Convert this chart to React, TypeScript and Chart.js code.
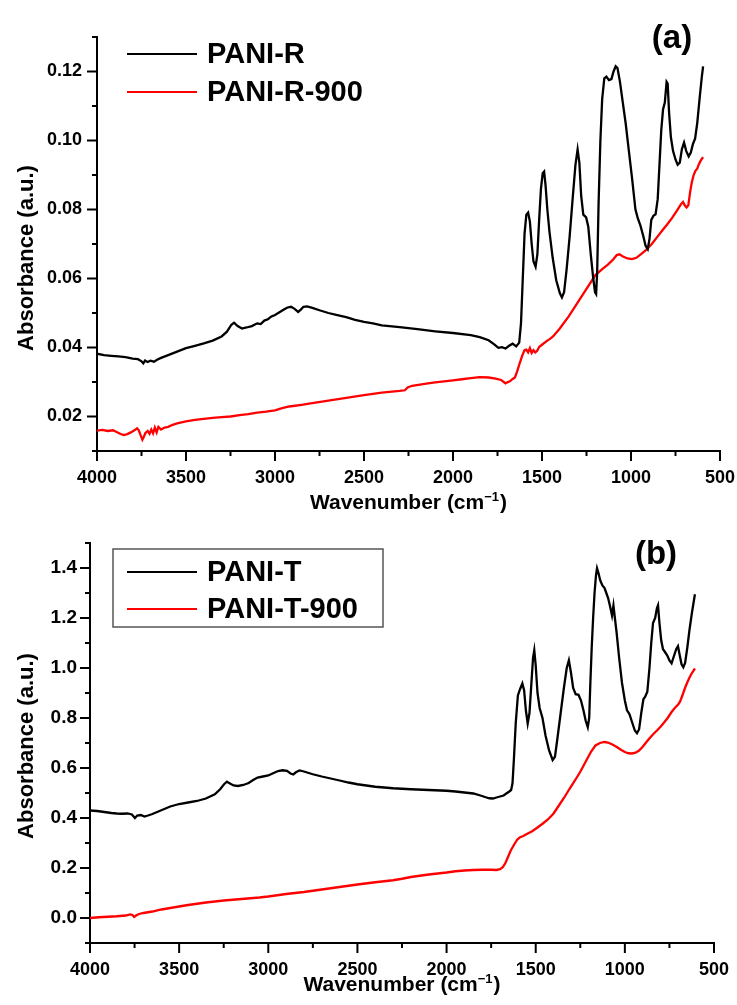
import React, { useEffect, useRef } from 'react';
import { Chart, registerables } from 'chart.js';

Chart.register(...registerables);

// ---------- data ----------
const xTicks = [4000, 3500, 3000, 2500, 2000, 1500, 1000, 500];
const yTicksA = [0.02, 0.04, 0.06, 0.08, 0.1, 0.12];
const yTicksB = [0.0, 0.2, 0.4, 0.6, 0.8, 1.0, 1.2, 1.4];

const seriesLabelsA = ['PANI-R', 'PANI-R-900'];
const seriesLabelsB = ['PANI-T', 'PANI-T-900'];
const panelLabels = ['(a)', '(b)'];

const paniR: [number, number][] = [
  [4000,0.0382],[3960,0.0378],[3920,0.0376],[3880,0.0374],[3840,0.0372],[3800,0.0368],[3770,0.0366],[3750,0.0360],[3740,0.0354],[3730,0.0362],[3715,0.0358],[3700,0.0362],[3680,0.0359],[3660,0.0365],[3640,0.0370],[3600,0.0378],[3550,0.0388],[3500,0.0398],[3450,0.0405],[3400,0.0412],[3350,0.0420],[3300,0.0432],[3270,0.0446],[3245,0.0466],[3230,0.0472],[3210,0.0462],[3185,0.0455],[3160,0.0458],[3130,0.0462],[3100,0.0470],[3080,0.0468],[3060,0.0478],[3040,0.0482],[3020,0.0490],[3000,0.0494],[2975,0.0502],[2950,0.0510],[2930,0.0516],[2910,0.0518],[2890,0.0512],[2870,0.0503],[2855,0.0510],[2840,0.0518],[2820,0.0519],[2790,0.0515],[2750,0.0508],[2700,0.0500],[2650,0.0494],[2600,0.0488],[2550,0.0480],[2500,0.0474],[2450,0.0470],[2400,0.0464],[2300,0.0459],[2200,0.0453],[2100,0.0447],[2000,0.0442],[1900,0.0436],[1850,0.0430],[1800,0.0421],[1770,0.0410],[1745,0.0399],[1725,0.0401],[1705,0.0397],[1685,0.0405],[1665,0.0411],[1645,0.0403],[1628,0.0414],[1618,0.0470],[1608,0.0600],[1598,0.0730],[1588,0.0785],[1578,0.0791],[1568,0.0765],[1558,0.0700],[1548,0.0650],[1536,0.0634],[1526,0.0670],[1516,0.0770],[1506,0.0860],[1496,0.0905],[1488,0.0910],[1480,0.0870],[1470,0.0800],[1458,0.0735],[1440,0.0660],[1420,0.0595],[1400,0.0558],[1388,0.0545],[1376,0.0560],[1362,0.0625],[1345,0.0720],[1328,0.0830],[1312,0.0930],[1300,0.0974],[1290,0.0935],[1280,0.0840],[1268,0.0785],[1252,0.0777],[1240,0.0750],[1226,0.0670],[1212,0.0600],[1202,0.0560],[1196,0.0555],[1190,0.0620],[1182,0.0820],[1172,0.1000],[1162,0.1120],[1150,0.1180],[1138,0.1185],[1124,0.1175],[1110,0.1178],[1098,0.1200],[1086,0.1215],[1076,0.1210],[1062,0.1170],[1046,0.1110],[1030,0.1050],[1012,0.0970],[994,0.0890],[975,0.0800],[962,0.0775],[948,0.0755],[932,0.0725],[918,0.0695],[906,0.0685],[896,0.0715],[886,0.0770],[874,0.0782],[862,0.0786],[850,0.0830],[840,0.0930],[830,0.1030],[820,0.1090],[810,0.1110],[800,0.1170],[794,0.1165],[786,0.1080],[776,0.1010],[764,0.0970],[750,0.0945],[738,0.0930],[726,0.0936],[714,0.0975],[702,0.0994],[690,0.0970],[676,0.0954],[664,0.0965],[652,0.0990],[640,0.1005],[628,0.1050],[614,0.1125],[602,0.1185],[595,0.1215]
];

const paniR900: [number, number][] = [
  [4000,0.0159],[3970,0.0161],[3940,0.0158],[3910,0.0160],[3890,0.0155],[3870,0.0150],[3850,0.0146],[3830,0.0149],[3810,0.0154],[3790,0.0160],[3775,0.0166],[3765,0.0160],[3755,0.0146],[3745,0.0133],[3738,0.0140],[3728,0.0152],[3715,0.0158],[3705,0.0150],[3695,0.0162],[3685,0.0151],[3675,0.0168],[3665,0.0154],[3655,0.0170],[3640,0.0162],[3620,0.0168],[3600,0.0170],[3575,0.0176],[3550,0.0180],[3500,0.0186],[3450,0.0190],[3400,0.0193],[3350,0.0196],[3300,0.0198],[3250,0.0200],[3200,0.0204],[3150,0.0207],[3100,0.0211],[3050,0.0214],[3000,0.0218],[2960,0.0224],[2920,0.0229],[2850,0.0234],[2800,0.0238],[2700,0.0246],[2600,0.0254],[2500,0.0262],[2400,0.0269],[2300,0.0274],[2270,0.0276],[2255,0.0284],[2230,0.0289],[2150,0.0295],[2100,0.0299],[2000,0.0305],[1950,0.0308],[1900,0.0311],[1850,0.0314],[1800,0.0313],[1760,0.0310],[1730,0.0306],[1715,0.0300],[1705,0.0296],[1695,0.0299],[1680,0.0302],[1665,0.0309],[1652,0.0313],[1640,0.0330],[1625,0.0355],[1610,0.0378],[1598,0.0392],[1588,0.0394],[1578,0.0386],[1568,0.0398],[1558,0.0384],[1548,0.0392],[1538,0.0386],[1528,0.0390],[1515,0.0402],[1500,0.0408],[1485,0.0414],[1470,0.0420],[1455,0.0425],[1438,0.0432],[1400,0.0455],[1350,0.0490],[1300,0.0530],[1250,0.0570],[1200,0.0610],[1160,0.0628],[1130,0.0640],[1100,0.0655],[1080,0.0668],[1065,0.0670],[1045,0.0664],[1020,0.0658],[995,0.0656],[970,0.0660],[940,0.0672],[910,0.0685],[880,0.0702],[850,0.0722],[820,0.0742],[798,0.0756],[770,0.0775],[740,0.0798],[720,0.0815],[708,0.0822],[698,0.0812],[688,0.0806],[678,0.0812],[668,0.0850],[658,0.0880],[648,0.0900],[638,0.0912],[628,0.0918],[620,0.0930],[612,0.0938],[604,0.0945],[595,0.0952]
];

const paniT: [number, number][] = [
  [4000,0.430],[3960,0.428],[3920,0.424],[3880,0.420],[3850,0.418],[3820,0.417],[3790,0.418],[3765,0.414],[3748,0.400],[3735,0.410],[3715,0.412],[3695,0.406],[3675,0.410],[3650,0.416],[3620,0.425],[3590,0.434],[3550,0.446],[3500,0.456],[3450,0.462],[3400,0.468],[3350,0.478],[3300,0.495],[3270,0.515],[3248,0.535],[3232,0.545],[3215,0.538],[3195,0.530],[3170,0.528],[3140,0.532],[3110,0.540],[3085,0.552],[3060,0.562],[3030,0.566],[3000,0.570],[2970,0.580],[2945,0.588],[2920,0.591],[2895,0.589],[2875,0.578],[2860,0.574],[2845,0.583],[2825,0.590],[2800,0.586],[2750,0.575],[2700,0.566],[2650,0.558],[2600,0.550],[2550,0.542],[2500,0.535],[2450,0.530],[2400,0.525],[2300,0.519],[2200,0.515],[2100,0.512],[2000,0.509],[1950,0.506],[1900,0.502],[1850,0.498],[1810,0.490],[1780,0.483],[1760,0.479],[1740,0.478],[1720,0.482],[1700,0.486],[1680,0.490],[1665,0.498],[1650,0.505],[1638,0.512],[1630,0.540],[1622,0.640],[1612,0.780],[1600,0.890],[1588,0.915],[1575,0.938],[1565,0.910],[1555,0.830],[1545,0.778],[1535,0.820],[1525,0.930],[1515,1.040],[1508,1.071],[1500,1.010],[1490,0.900],[1478,0.840],[1462,0.800],[1445,0.730],[1425,0.670],[1405,0.632],[1392,0.645],[1378,0.720],[1360,0.820],[1342,0.920],[1326,1.000],[1314,1.031],[1302,0.980],[1290,0.920],[1276,0.895],[1260,0.893],[1246,0.870],[1232,0.830],[1220,0.790],[1208,0.763],[1200,0.800],[1194,0.930],[1186,1.080],[1178,1.200],[1170,1.300],[1162,1.370],[1156,1.399],[1148,1.380],[1138,1.350],[1126,1.330],[1114,1.320],[1104,1.300],[1094,1.280],[1084,1.250],[1072,1.210],[1064,1.250],[1056,1.200],[1046,1.140],[1032,1.040],[1016,0.940],[1000,0.870],[988,0.831],[974,0.815],[958,0.780],[944,0.750],[932,0.739],[920,0.755],[908,0.820],[896,0.875],[886,0.885],[874,0.905],[862,1.000],[852,1.100],[842,1.180],[830,1.200],[820,1.240],[814,1.251],[806,1.180],[796,1.110],[786,1.075],[774,1.063],[762,1.050],[750,1.030],[738,1.019],[726,1.045],[712,1.075],[702,1.087],[692,1.050],[682,1.015],[672,1.003],[662,1.020],[650,1.080],[638,1.150],[624,1.220],[607,1.295]
];

const paniT900: [number, number][] = [
  [4000,0.000],[3950,0.003],[3900,0.005],[3850,0.007],[3800,0.010],[3775,0.014],[3762,0.012],[3752,0.004],[3742,0.010],[3725,0.016],[3700,0.020],[3650,0.026],[3600,0.034],[3550,0.040],[3500,0.046],[3450,0.052],[3400,0.057],[3350,0.062],[3300,0.066],[3250,0.070],[3200,0.073],[3150,0.076],[3100,0.079],[3050,0.082],[3000,0.086],[2950,0.091],[2900,0.096],[2850,0.100],[2800,0.104],[2700,0.114],[2600,0.124],[2500,0.134],[2400,0.143],[2300,0.151],[2250,0.157],[2200,0.164],[2100,0.174],[2000,0.182],[1950,0.187],[1900,0.190],[1850,0.192],[1800,0.193],[1750,0.193],[1720,0.192],[1700,0.195],[1685,0.203],[1670,0.220],[1655,0.245],[1640,0.270],[1620,0.295],[1605,0.312],[1590,0.322],[1570,0.328],[1550,0.336],[1520,0.347],[1490,0.362],[1460,0.378],[1430,0.395],[1400,0.418],[1370,0.450],[1340,0.482],[1310,0.517],[1280,0.550],[1250,0.585],[1220,0.625],[1190,0.665],[1165,0.690],[1140,0.700],[1115,0.704],[1095,0.702],[1070,0.694],[1045,0.684],[1020,0.672],[1000,0.664],[980,0.659],[960,0.658],[940,0.661],[920,0.670],[900,0.685],[880,0.703],[860,0.720],[840,0.736],[820,0.750],[800,0.765],[780,0.782],[760,0.800],[740,0.822],[720,0.840],[700,0.855],[690,0.866],[680,0.885],[670,0.905],[660,0.925],[650,0.942],[640,0.958],[630,0.972],[620,0.984],[607,0.998]
];

// ---------- styling / layout ----------
const FONT = '"Liberation Sans", Arial, Helvetica, sans-serif';
const BLACK = '#000000';
const RED = '#ff0000';

type PanelCfg = {
  height: number;
  left: number;
  right: number;
  top: number;
  bottom: number;
  yMin: number;
  yMax: number;
  yTicks: number[];
  yDecimals: number;
  yTickFont: number;
  yTickPad: number;
  series: [number, number][][];
  labels: string[];
  colors: string[];
  panelLabel: string;
  panelLabelPos: [number, number];
  legendY: number[];
  legendBox: null | [number, number, number, number];
  yTitleCenter: number;
  xTitleBaseline: number;
};

const toPoints = (arr: [number, number][]) => arr.map(([x, y]) => ({ x, y }));

function drawXTitle(ctx: CanvasRenderingContext2D, cx: number, baseline: number) {
  const main = 'Wavenumber (cm';
  const sup = '\u22121';
  const end = ')';
  const big = `bold 21px ${FONT}`;
  const small = `bold 13px ${FONT}`;
  ctx.font = big;
  const w1 = ctx.measureText(main).width;
  const w3 = ctx.measureText(end).width;
  ctx.font = small;
  const w2 = ctx.measureText(sup).width;
  const total = w1 + w2 + w3 + 1;
  let x = cx - total / 2;
  ctx.textBaseline = 'alphabetic';
  ctx.textAlign = 'left';
  ctx.fillStyle = BLACK;
  ctx.font = big;
  ctx.fillText(main, x, baseline);
  x += w1;
  ctx.font = small;
  ctx.fillText(sup, x, baseline - 8);
  x += w2 + 1;
  ctx.font = big;
  ctx.fillText(end, x, baseline);
}

function makeDecor(cfg: PanelCfg) {
  return {
    id: 'decor',
    afterDraw(chart: any) {
      const ctx: CanvasRenderingContext2D = chart.ctx;
      const { left, right, bottom } = chart.chartArea;
      const xs = chart.scales.x;
      const ys = chart.scales.y;
      ctx.save();
      ctx.strokeStyle = BLACK;
      ctx.lineWidth = 2;
      ctx.lineCap = 'butt';
      // x ticks (major + minor)
      for (let i = 0; i < xTicks.length; i++) {
        const px = xs.getPixelForValue(xTicks[i]);
        ctx.beginPath();
        ctx.moveTo(px, bottom);
        ctx.lineTo(px, bottom + 10);
        ctx.stroke();
        if (i < xTicks.length - 1) {
          const mx = xs.getPixelForValue((xTicks[i] + xTicks[i + 1]) / 2);
          ctx.beginPath();
          ctx.moveTo(mx, bottom);
          ctx.lineTo(mx, bottom + 5);
          ctx.stroke();
        }
      }
      // y ticks (major + minor)
      const step = cfg.yTicks[1] - cfg.yTicks[0];
      const minors = cfg.yTicks.map((v) => v - step / 2).concat([cfg.yTicks[cfg.yTicks.length - 1] + step / 2]);
      for (const v of cfg.yTicks) {
        const py = ys.getPixelForValue(v);
        ctx.beginPath();
        ctx.moveTo(left, py);
        ctx.lineTo(left - 10, py);
        ctx.stroke();
      }
      for (const v of minors) {
        const py = ys.getPixelForValue(v);
        ctx.beginPath();
        ctx.moveTo(left, py);
        ctx.lineTo(left - 5, py);
        ctx.stroke();
      }

      // legend
      if (cfg.legendBox) {
        const [bx, by, bw, bh] = cfg.legendBox;
        ctx.strokeStyle = '#555555';
        ctx.lineWidth = 1.5;
        ctx.strokeRect(bx, by, bw, bh);
      }
      ctx.font = `bold 29px ${FONT}`;
      ctx.textBaseline = 'middle';
      ctx.textAlign = 'left';
      cfg.labels.forEach((lab, i) => {
        const ly = cfg.legendY[i];
        ctx.strokeStyle = cfg.colors[i];
        ctx.lineWidth = 2;
        ctx.beginPath();
        ctx.moveTo(127, ly);
        ctx.lineTo(197, ly);
        ctx.stroke();
        ctx.fillStyle = BLACK;
        ctx.fillText(lab, 207, ly + 1);
      });

      // panel label
      ctx.font = `bold 33px ${FONT}`;
      ctx.textAlign = 'center';
      ctx.textBaseline = 'middle';
      ctx.fillText(cfg.panelLabel, cfg.panelLabelPos[0], cfg.panelLabelPos[1]);

      // y title
      ctx.save();
      ctx.translate(27, cfg.yTitleCenter);
      ctx.rotate(-Math.PI / 2);
      ctx.font = `bold 22px ${FONT}`;
      ctx.textAlign = 'center';
      ctx.textBaseline = 'middle';
      ctx.fillText('Absorbance (a.u.)', 0, 0);
      ctx.restore();

      // x title
      drawXTitle(ctx, (left + right) / 2, cfg.xTitleBaseline);
      ctx.restore();
    },
  };
}

function buildChart(canvas: HTMLCanvasElement, cfg: PanelCfg) {
  return new Chart(canvas, {
    type: 'line',
    data: {
      datasets: cfg.series.map((s, i) => ({
        label: cfg.labels[i],
        data: toPoints(s),
        borderColor: cfg.colors[i],
        backgroundColor: cfg.colors[i],
        borderWidth: 2.3,
        pointRadius: 0,
        tension: 0,
        fill: false,
      })),
    },
    options: {
      animation: false,
      responsive: false,
      maintainAspectRatio: false,
      events: [],
      layout: {
        padding: { left: 0, right: 737 - cfg.right, top: cfg.top, bottom: 0 },
      },
      plugins: {
        legend: { display: false },
        tooltip: { enabled: false },
      },
      scales: {
        x: {
          type: 'linear',
          min: 500,
          max: 4000,
          reverse: true,
          afterBuildTicks: (s: any) => {
            s.ticks = xTicks.map((v) => ({ value: v }));
          },
          afterFit: (s: any) => {
            s.height = cfg.height - cfg.bottom;
            s.paddingLeft = 0;
            s.paddingRight = 0;
          },
          grid: { display: false, drawTicks: false },
          border: { display: true, color: BLACK, width: 2 },
          ticks: {
            color: BLACK,
            font: { family: FONT, size: 18, weight: 'bold' },
            padding: 16,
            maxRotation: 0,
            autoSkip: false,
            callback: (v: any) => String(v),
          },
        },
        y: {
          type: 'linear',
          min: cfg.yMin,
          max: cfg.yMax,
          afterBuildTicks: (s: any) => {
            s.ticks = cfg.yTicks.map((v) => ({ value: v }));
          },
          afterFit: (s: any) => {
            s.width = cfg.left;
            s.paddingTop = 0;
            s.paddingBottom = 0;
          },
          grid: { display: false, drawTicks: false },
          border: { display: true, color: BLACK, width: 2 },
          ticks: {
            color: BLACK,
            font: { family: FONT, size: cfg.yTickFont, weight: 'bold' },
            padding: cfg.yTickPad,
            autoSkip: false,
            callback: (v: any) => Number(v).toFixed(cfg.yDecimals),
          },
        },
      },
    },
    plugins: [makeDecor(cfg)],
  } as any);
}

const panelA: PanelCfg = {
  height: 525,
  left: 97,
  right: 720,
  top: 37,
  bottom: 451,
  yMin: 0.01,
  yMax: 0.13,
  yTicks: yTicksA,
  yDecimals: 2,
  yTickFont: 18,
  yTickPad: 15,
  series: [paniR, paniR900],
  labels: seriesLabelsA,
  colors: [BLACK, RED],
  panelLabel: panelLabels[0],
  panelLabelPos: [672, 39],
  legendY: [54, 92],
  legendBox: null,
  yTitleCenter: 258,
  xTitleBaseline: 509,
};

const panelB: PanelCfg = {
  height: 503,
  left: 90,
  right: 714,
  top: 41,
  bottom: 441,
  yMin: -0.1,
  yMax: 1.5,
  yTicks: yTicksB,
  yDecimals: 1,
  yTickFont: 19,
  yTickPad: 13,
  series: [paniT, paniT900],
  labels: seriesLabelsB,
  colors: [BLACK, RED],
  panelLabel: panelLabels[1],
  panelLabelPos: [656, 53],
  legendY: [70, 107],
  legendBox: [113, 47, 270, 78],
  yTitleCenter: 244,
  xTitleBaseline: 489,
};

function Panel({ cfg, top }: { cfg: PanelCfg; top: number }) {
  const ref = useRef<HTMLCanvasElement | null>(null);
  useEffect(() => {
    if (!ref.current) return;
    const chart = buildChart(ref.current, cfg);
    return () => chart.destroy();
  }, [cfg]);
  return (
    <canvas
      ref={ref}
      width={737}
      height={cfg.height}
      style={{ position: 'absolute', left: 0, top, width: 737, height: cfg.height, display: 'block' }}
    />
  );
}

export default function App() {
  useEffect(() => {
    document.body.style.margin = '0';
    document.body.style.background = '#ffffff';
  }, []);
  return (
    <div style={{ position: 'relative', width: 737, height: 1005, background: '#ffffff', overflow: 'hidden' }}>
      <Panel cfg={panelA} top={0} />
      <Panel cfg={panelB} top={502} />
    </div>
  );
}
